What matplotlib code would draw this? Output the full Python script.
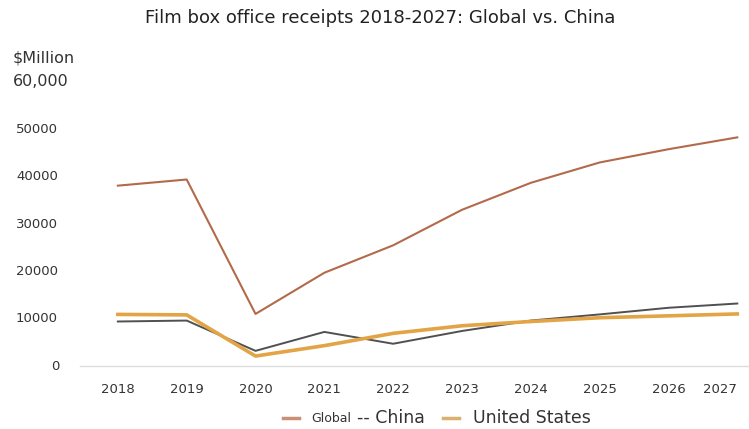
import matplotlib.pyplot as plt
from matplotlib.lines import Line2D

years = [2018, 2019, 2020, 2021, 2022, 2023, 2024, 2025, 2026, 2027]
global_receipts = [38100, 39400, 11000, 19700, 25500, 33000, 38700, 43000, 45800, 48300]
china_receipts = [9400, 9600, 3200, 7200, 4700, 7400, 9600, 10900, 12300, 13200]
us_receipts = [10900, 10800, 2100, 4300, 6900, 8500, 9400, 10200, 10600, 11000]

ytick_vals = [0, 10000, 20000, 30000, 40000, 50000]
ytick_labels = ["0", "10000", "20000", "30000", "40000", "50000"]

W, H = 749, 429
fig = plt.figure(figsize=(W / 100, H / 100), dpi=100)
ax = fig.add_axes([80 / W, 63 / H, 669 / W, 284 / H])

ax.plot(years, global_receipts, color="#B36A4B", lw=1.5)
ax.plot(years, china_receipts, color="#505050", lw=1.4)
ax.plot(years, us_receipts, color="#E2A445", lw=2.6)

ax.set_xlim(2017.45, 2027.17)
ax.set_ylim(0, 60000)
ax.set_xticks(years)
ax.set_xticklabels([str(y) for y in years], fontsize=9.5, color="#333333")
ax.tick_params(axis="x", length=0, pad=12)
last = ax.get_xticklabels()[-1]
last.set_ha("right")
last.set_x(2027.16)

ax.set_yticks([])
for v, lab in zip(ytick_vals, ytick_labels):
    if v == 0:
        ax.text(-20 / 669, v, lab, transform=ax.get_yaxis_transform(),
                ha="right", va="center", fontsize=9.5, color="#333333")
    else:
        ax.text(-64 / 669, v, lab, transform=ax.get_yaxis_transform(),
                ha="left", va="center", fontsize=9.5, color="#333333")
ax.text(-67 / 669, 60000, "60,000", transform=ax.get_yaxis_transform(),
        ha="left", va="center", fontsize=11.5, color="#333333")
fig.text(13 / W, 1 - 58 / H, "$Million", ha="left", va="center",
         fontsize=11.5, color="#333333")

for s in ["top", "right", "left"]:
    ax.spines[s].set_visible(False)
ax.spines["bottom"].set_color("#dddddd")
ax.spines["bottom"].set_linewidth(1)

fig.suptitle("Film box office receipts 2018-2027: Global vs. China",
             x=0.508, y=1 - 18 / H, va="center", fontsize=13, color="#222222")

# legend drawn by hand: "-- China" has no line handle in the original
ly = 1 - 418 / H
fig.add_artist(Line2D([283 / W, 299 / W], [ly, ly], color="#C99078", lw=2.5))
fig.text(311 / W, ly, "Global", ha="left", va="center", fontsize=9, color="#333333")
fig.text(357 / W, ly, "-- China", ha="left", va="center", fontsize=12.5, color="#333333")
fig.add_artist(Line2D([443 / W, 459 / W], [ly, ly], color="#D9B070", lw=2.5))
fig.text(473 / W, ly, "United States", ha="left", va="center", fontsize=12.5, color="#333333")

fig.savefig("out.png", dpi=100)
